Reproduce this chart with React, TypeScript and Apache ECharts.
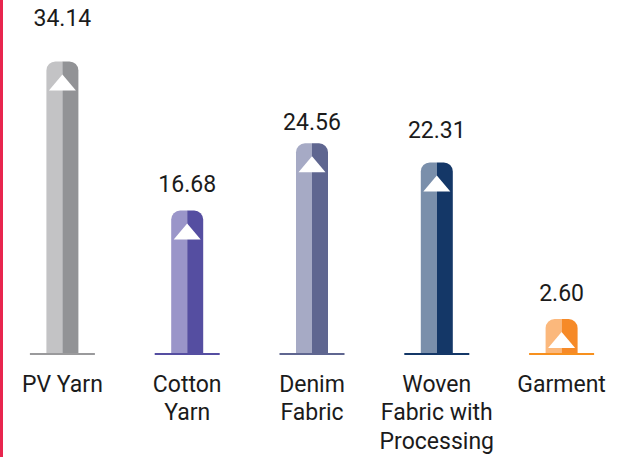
import React, { useEffect, useRef } from "react";
import * as echarts from "echarts";

// ---- data ----
const categories = ["PV Yarn", "Cotton\nYarn", "Denim\nFabric", "Woven\nFabric with\nProcessing", "Garment"];
const values = [34.14, 16.68, 24.56, 22.31, 2.6];

// ---- styles / layout ----
const lightColors = ["#c3c3c5", "#9a95c9", "#a6aac5", "#7a8fab", "#fbb87c"];
const darkColors = ["#929396", "#554ea1", "#5f6690", "#143767", "#f68a28"];
const lineColors = ["#9a9a9c", "#554ea1", "#5f6690", "#143767", "#f7901e"];
const labelGaps = [43, 26.5, 20.5, 32, 26];
const MIN_H = 34;
const BAR_HALF = 16;
const RADIUS = 9;

export default function App() {
  const ref = useRef<HTMLDivElement>(null);
  useEffect(() => {
    if (!ref.current) return;
    const chart = echarts.init(ref.current, null, { renderer: "svg" });
    chart.setOption({
      animation: false,
      backgroundColor: "#ffffff",
      grid: { left: 0, width: 627, top: 11.4, bottom: 104 },
      xAxis: {
        type: "category",
        data: categories,
        axisLine: { show: false },
        axisTick: { show: false },
        axisLabel: {
          interval: 0,
          margin: 17,
          fontSize: 23,
          lineHeight: 28.5,
          fontFamily: "Roboto",
          color: "#1b1b1b",
          align: "center",
        },
      },
      yAxis: { type: "value", min: 0, max: 40, show: false, splitLine: { show: false } },
      graphic: [
        { type: "rect", left: 0, top: 0, shape: { x: 0, y: 0, width: 3, height: 457 }, style: { fill: "#e8254e" } },
      ],
      series: [
        {
          type: "custom",
          data: values.map((v, i) => [i, v]),
          encode: { x: 0, y: 1 },
          renderItem: (params: any, api: any) => {
            const idx = params.dataIndex;
            const v = api.value(1);
            const top = api.coord([idx, v]);
            const base = api.coord([idx, 0]);
            const cx = top[0];
            let h = base[1] - top[1];
            if (h < MIN_H) h = MIN_H;
            const y0 = base[1] - h;
            return {
              type: "group",
              children: [
                { type: "rect", shape: { x: cx - BAR_HALF, y: y0, width: BAR_HALF, height: h, r: [RADIUS, 0, 0, 0] }, style: { fill: lightColors[idx] } },
                { type: "rect", shape: { x: cx, y: y0, width: BAR_HALF, height: h, r: [0, RADIUS, 0, 0] }, style: { fill: darkColors[idx] } },
                { type: "polygon", shape: { points: [[cx, y0 + 13], [cx - 13.5, y0 + 29], [cx + 13.5, y0 + 29]] }, style: { fill: "#ffffff" } },
                { type: "rect", shape: { x: cx - 32.5, y: base[1], width: 65, height: 2 }, style: { fill: lineColors[idx] } },
                {
                  type: "text",
                  style: {
                    text: v.toFixed(2),
                    x: cx,
                    y: y0 - labelGaps[idx],
                    align: "center",
                    verticalAlign: "middle",
                    fontSize: 23,
                    fontFamily: "Roboto",
                    fill: "#1b1b1b",
                  },
                },
              ],
            };
          },
        },
      ],
    });
    return () => chart.dispose();
  }, []);
  return <div ref={ref} style={{ position: "absolute", left: 0, top: 0, width: 624, height: 457 }} />;
}
